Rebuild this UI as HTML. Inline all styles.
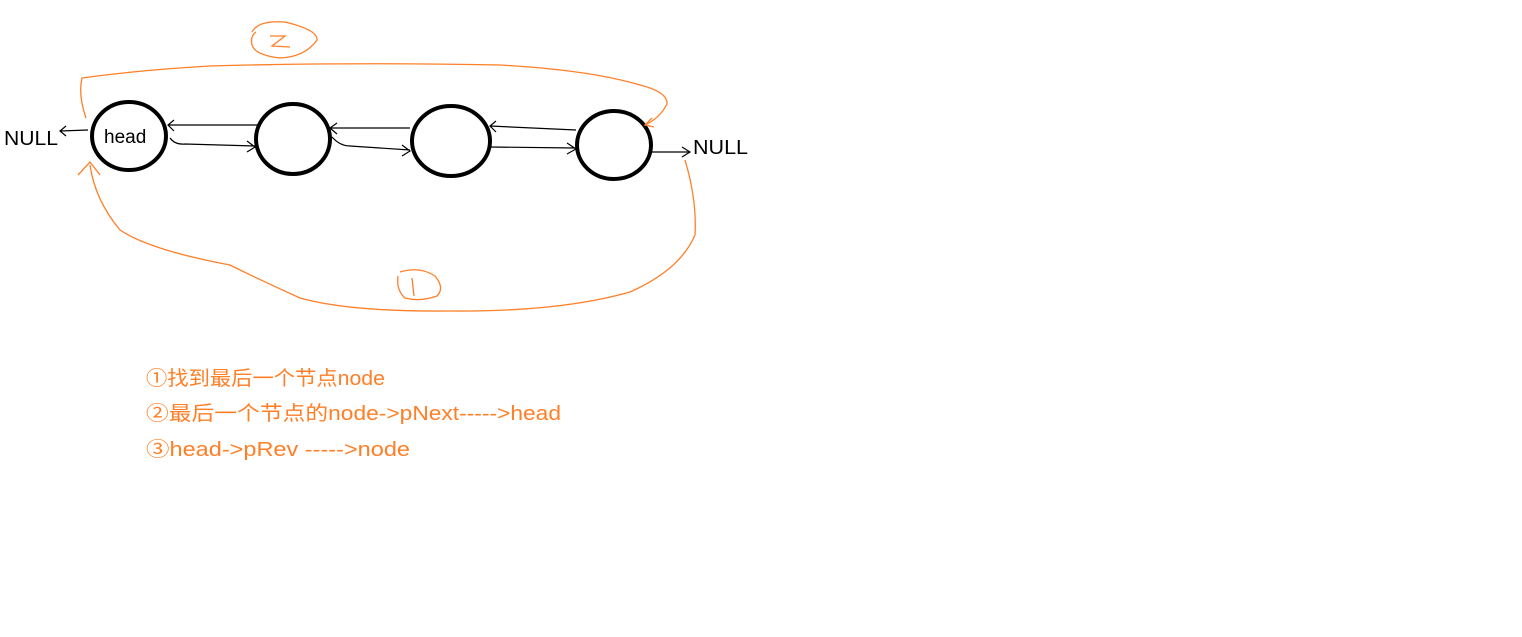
<!DOCTYPE html>
<html><head><meta charset="utf-8">
<style>
html,body{margin:0;padding:0;background:#fff;}
svg{display:block;}
.t{font-family:"Liberation Sans","Noto Sans CJK SC",sans-serif;}
</style></head>
<body>
<svg width="1522" height="637" viewBox="0 0 1522 637" xmlns="http://www.w3.org/2000/svg">
<rect width="1522" height="637" fill="#fff"/>
<g fill="none" stroke="#000" stroke-width="4">
<ellipse cx="129" cy="136" rx="37" ry="34"/>
<ellipse cx="293" cy="139" rx="37" ry="35"/>
<ellipse cx="451" cy="141" rx="39" ry="35"/>
<ellipse cx="614" cy="145" rx="37" ry="34"/>
</g>
<g fill="none" stroke="#000" stroke-width="1.2">
<path d="M88 130 L60 131 M66 126 L60 131 L66 136"/>
<path d="M168 125 L258 125 M174 120 L168 125 L174 131"/>
<path d="M170 138 Q175 145 185 144 L255 146 M247 141 L255 147 L247 152"/>
<path d="M330 128 L410 128 M337 123 L330 128 L337 134"/>
<path d="M332 137 Q340 146 350 146 L410 150 M402 145 L410 151 L402 156"/>
<path d="M490 126 L576 130 M496 121 L490 126 L496 132"/>
<path d="M490 147 L575 148 M567 143 L576 149 L567 154"/>
<path d="M651 152 L690 152 M682 147 L690 152 L682 157"/>
</g>
<text class="t" x="4" y="145" font-size="20" textLength="54" lengthAdjust="spacingAndGlyphs" fill="#000">NULL</text>
<text class="t" x="104" y="143" font-size="19" fill="#000">head</text>
<text class="t" x="693" y="154" font-size="20" textLength="55" lengthAdjust="spacingAndGlyphs" fill="#000">NULL</text>
<g fill="none" stroke="#ff7f27" stroke-width="1.3">
<path d="M86 118 Q78 95 82 78 Q140 70 210 66 Q350 62 500 65 Q590 70 640 85 Q668 92 667 104 Q660 118 645 125 M652 118 L645 125 L654 127"/>
<path d="M252 32 Q258 20 285 22 Q318 30 317 40 Q305 57 280 58 Q255 55 252 45 Q250 36 256 32"/>
<path d="M270 36 L285 36 L272 46 L290 47"/>
<path d="M685 160 Q697 200 695 235 Q680 270 630 292 Q560 312 450 311 Q350 312 300 298 Q260 280 230 265 Q150 250 120 230 Q95 200 90 165 M78 175 L90 162 L100 175"/>
<path d="M400 272 Q420 266 435 276 Q445 288 437 296 Q420 302 405 298 Q396 290 398 276"/>
<path d="M412 278 L414 296"/>
</g>
<g class="t" font-size="20" fill="#ff7f27">
<text x="146" y="385" textLength="239" lengthAdjust="spacingAndGlyphs">①找到最后一个节点node</text>
<text x="146" y="420" textLength="415" lengthAdjust="spacingAndGlyphs">②最后一个节点的node-&gt;pNext-----&gt;head</text>
<text x="146" y="456" textLength="264" lengthAdjust="spacingAndGlyphs">③head-&gt;pRev -----&gt;node</text>
</g>
</svg>
</body></html>
